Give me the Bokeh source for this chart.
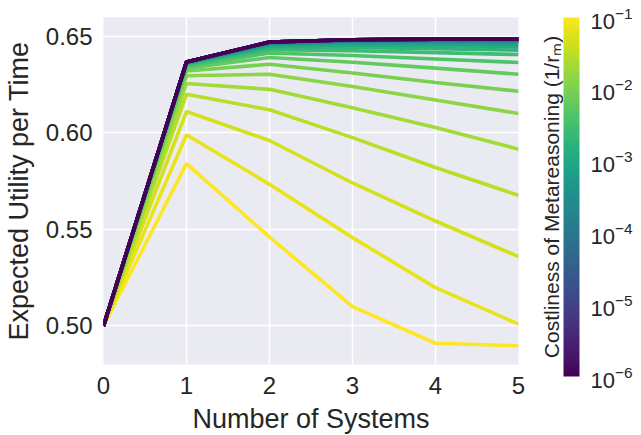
from bokeh.plotting import figure
from bokeh.layouts import row
from bokeh.models import (ColumnDataSource, ColorBar, LogColorMapper, FixedTicker,
                          LogTickFormatter, PrintfTickFormatter, Title, Range1d)
from bokeh.palettes import Viridis256
from bokeh.transform import log_cmap
from bokeh.embed import file_html
from bokeh.resources import INLINE

# ---------------- data ----------------
num_systems = [0, 1, 2, 3, 4, 5]

# costliness of metareasoning (1/r_m), drawn from most to least costly
costs = [1.00e-1, 6.72e-2, 4.52e-2, 3.04e-2, 2.04e-2, 1.37e-2, 9.24e-3, 6.21e-3,
         4.18e-3, 2.81e-3, 1.89e-3, 1.27e-3, 8.53e-4, 5.74e-4, 3.86e-4, 2.59e-4,
         1.74e-4, 1.17e-4, 7.88e-5, 5.30e-5, 3.56e-5, 2.40e-5, 1.61e-5, 1.08e-5,
         7.28e-6, 4.89e-6, 3.29e-6, 2.21e-6, 1.49e-6, 1.00e-6]

utility = [
    [0.500, 0.5840, 0.5460, 0.5100, 0.4910, 0.4897],
    [0.500, 0.5990, 0.5733, 0.5457, 0.5198, 0.5009],
    [0.500, 0.6110, 0.5960, 0.5740, 0.5543, 0.5359],
    [0.500, 0.6200, 0.6119, 0.5975, 0.5820, 0.5676],
    [0.500, 0.6255, 0.6225, 0.6130, 0.6027, 0.5915],
    [0.500, 0.6295, 0.6303, 0.6240, 0.6170, 0.6100],
    [0.500, 0.6320, 0.6355, 0.6310, 0.6260, 0.6215],
    [0.500, 0.6335, 0.6390, 0.6365, 0.6335, 0.6303],
    [0.500, 0.6345, 0.6413, 0.6400, 0.6382, 0.6364],
    [0.500, 0.6352, 0.6430, 0.6425, 0.6415, 0.6405],
    [0.500, 0.6357, 0.6442, 0.6442, 0.6436, 0.6428],
    [0.500, 0.6360, 0.6450, 0.6455, 0.6452, 0.6445],
    [0.500, 0.6362, 0.6456, 0.6464, 0.6462, 0.6458],
    [0.500, 0.6363, 0.6460, 0.6470, 0.6470, 0.6467],
    [0.500, 0.6364, 0.6463, 0.6474, 0.6475, 0.6473],
    [0.500, 0.6365, 0.6465, 0.6477, 0.6478, 0.6477],
    [0.500, 0.6365, 0.6467, 0.6479, 0.6481, 0.6480],
    [0.500, 0.6366, 0.6468, 0.6480, 0.6482, 0.6482],
    [0.500, 0.6366, 0.6469, 0.6481, 0.6483, 0.6483],
    [0.500, 0.6366, 0.6469, 0.6481, 0.6484, 0.6484],
    [0.500, 0.6367, 0.6470, 0.6482, 0.6484, 0.6484],
    [0.500, 0.6367, 0.6470, 0.6482, 0.6485, 0.6485],
    [0.500, 0.6367, 0.6470, 0.6482, 0.6485, 0.6485],
    [0.500, 0.6367, 0.6470, 0.6482, 0.6485, 0.6485],
    [0.500, 0.6367, 0.6470, 0.6482, 0.6485, 0.6485],
    [0.500, 0.6367, 0.6470, 0.6482, 0.6485, 0.6485],
    [0.500, 0.6367, 0.6470, 0.6482, 0.6485, 0.6485],
    [0.500, 0.6367, 0.6470, 0.6482, 0.6485, 0.6485],
    [0.500, 0.6367, 0.6470, 0.6482, 0.6485, 0.6485],
    [0.500, 0.6367, 0.6470, 0.6482, 0.6485, 0.6485],
]

x_ticks = [0, 1, 2, 3, 4, 5]
y_ticks = [0.50, 0.55, 0.60, 0.65]
cbar_ticks = [1e-6, 1e-5, 1e-4, 1e-3, 1e-2, 1e-1]
cost_low, cost_high = 1e-6, 1e-1

x_title = "Number of Systems"
y_title = "Expected Utility per Time"
cbar_title = "Costliness of Metareasoning (1/rₘ)"

# ---------------- main figure ----------------
FONT = "Liberation Sans"
TXT = "#262626"

p = figure(frame_width=415, frame_height=347,
           min_border_left=95, min_border_top=17, min_border_right=10, min_border_bottom=55,
           x_range=Range1d(0, 5), y_range=Range1d(0.48, 0.6597),
           output_backend="svg", toolbar_location=None)

p.background_fill_color = "#EAEAF2"
p.border_fill_color = "white"
p.outline_line_color = None

src = ColumnDataSource(dict(xs=[num_systems] * len(utility), ys=utility, cost=costs))
p.multi_line("xs", "ys", source=src, line_width=3.6,
             line_color=log_cmap("cost", Viridis256, cost_low, cost_high))

for ax in (p.xaxis[0], p.yaxis[0]):
    ax.axis_line_color = None
    ax.major_tick_line_color = None
    ax.minor_tick_line_color = None
    ax.major_tick_out = 0
    ax.major_tick_in = 0
    ax.major_label_text_font = FONT
    ax.major_label_text_font_size = "24px"
    ax.major_label_text_color = TXT
    ax.axis_label_text_font = FONT
    ax.axis_label_text_font_size = "27px"
    ax.axis_label_text_font_style = "normal"
    ax.axis_label_text_color = TXT

p.xaxis.ticker = FixedTicker(ticks=x_ticks)
p.yaxis.ticker = FixedTicker(ticks=y_ticks)
p.yaxis.formatter = PrintfTickFormatter(format="%.2f")
p.xaxis.axis_label = x_title
p.yaxis.axis_label = y_title
p.xaxis.major_label_standoff = 12
p.yaxis.major_label_standoff = 11
p.xaxis.axis_label_standoff = 7
p.yaxis.axis_label_standoff = 9

p.grid.grid_line_color = "white"
p.grid.grid_line_width = 1.5

# ---------------- colour bar figure ----------------
cbf = figure(frame_width=16, frame_height=359,
             min_border_left=35, min_border_right=54, min_border_top=17, min_border_bottom=43,
             x_range=Range1d(0, 1), y_range=Range1d(0, 1),
             x_axis_location=None, y_axis_location=None,
             output_backend="svg", toolbar_location=None)
cbf.outline_line_color = None
cbf.grid.visible = False
cbf.background_fill_color = None
cbf.border_fill_color = "white"

mapper = LogColorMapper(palette=Viridis256, low=cost_low, high=cost_high)
cb = ColorBar(color_mapper=mapper, ticker=FixedTicker(ticks=cbar_ticks),
              formatter=LogTickFormatter(), width=16, height=359,
              location=(0, 0), margin=0, padding=0,
              background_fill_color=None, border_line_color=None, bar_line_color=None,
              major_tick_line_color=None, minor_tick_line_color=None,
              label_standoff=11, major_label_text_font=FONT,
              major_label_text_font_size="22px", major_label_text_color=TXT)
cbf.add_layout(cb, "center")

cbf.add_layout(Title(text=cbar_title, align="center", offset=7, standoff=1,
                     text_font=FONT, text_font_size="21px", text_font_style="normal",
                     text_color=TXT), "left")

layout = row(p, cbf, spacing=0)
open("out.html", "w").write(file_html(layout, INLINE))
